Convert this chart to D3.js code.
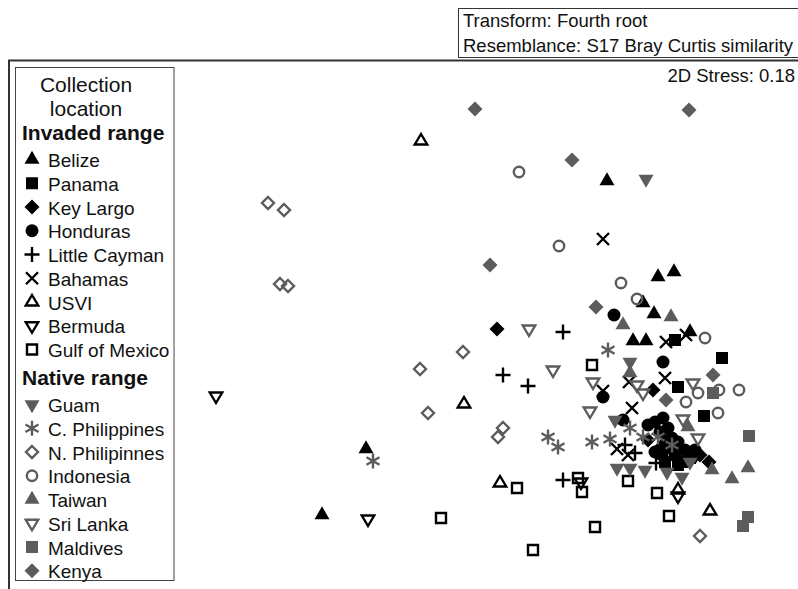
<!DOCTYPE html>
<html><head><meta charset="utf-8">
<script src="https://cdn.jsdelivr.net/npm/d3@7"></script>
<style>body{margin:0;background:#fff}svg{display:block;font-family:"Liberation Sans",Arial,Helvetica,sans-serif}</style>
</head><body><svg id="c" width="798" height="589"></svg>
<script>
// ---- data (nMDS coordinates) ----
const invadedLabels = ["Belize","Panama","Key Largo","Honduras","Little Cayman","Bahamas","USVI","Bermuda","Gulf of Mexico"];
const nativeLabels = ["Guam","C. Philippines","N. Philipinnes","Indonesia","Taiwan","Sri Lanka","Maldives","Kenya"];
const legendTitle = ["Collection","location"];
const headerLines = ["Transform: Fourth root","Resemblance: S17 Bray Curtis similarity"];
const stressLabel = "2D Stress: 0.18";

const belize = [[2.07,1.49],[2.58,0.53],[2.74,0.58],[2.43,0.27],[2.54,0.16],[2.33,-0.11],[2.46,-0.11],[2.90,-0.02],[-0.34,-1.19],[-0.78,-1.85],[2.65,-1.10]];
const panama = [[2.75,-0.10],[3.22,-0.28],[2.78,-0.57],[3.04,-0.86],[2.75,-1.25],[2.90,-1.28],[2.78,-1.35],[2.65,-1.32],[2.70,-1.18],[2.85,-1.32]];
const keyLargo = [[0.97,0.01],[3.09,-1.32],[2.53,-0.60],[2.60,-1.18],[3.00,-1.25],[2.48,-1.10],[2.78,-1.22]];
const honduras = [[2.14,0.15],[2.63,-0.32],[2.03,-0.67],[2.23,-0.90],[2.63,-0.88],[2.48,-0.95],[2.60,-1.02],[2.72,-1.08],[2.85,-1.20],[2.55,-1.22],[2.92,-1.28],[2.68,-0.98],[2.78,-1.12],[2.95,-1.20],[2.62,-1.25],[2.55,-0.92]];
const littleCayman = [[1.63,-0.02],[1.03,-0.45],[1.28,-0.56],[1.63,-1.50],[2.25,-1.15],[2.35,-1.23],[2.56,-1.33]];
const bahamas = [[2.03,0.91],[2.66,-0.12],[2.86,-0.05],[2.03,-0.61],[2.29,-0.52],[2.65,-0.48],[2.32,-0.78],[2.17,-1.19],[2.28,-1.25]];
const usvi = [[0.21,1.89],[0.64,-0.74],[1.00,-1.53],[3.10,-1.81],[2.78,-1.60]];
const bermuda = [[-1.84,-0.66],[-0.32,-1.89],[1.81,-1.52],[2.78,-1.66]];
const gulfOfMexico = [[0.41,-1.88],[1.17,-1.58],[1.33,-2.20],[1.95,-1.97],[1.92,-0.35],[1.78,-1.48],[1.82,-1.62],[2.28,-1.51],[2.69,-1.86],[2.57,-1.63]];

const guam = [[2.46,1.51],[2.17,-1.38],[2.30,-1.38],[2.45,-1.40],[2.67,-1.42],[2.82,-1.47],[2.30,-0.32],[2.15,-0.90],[2.90,-1.32]];
const cPhilippines = [[-0.27,-1.31],[1.48,-1.07],[1.58,-1.17],[1.92,-1.12],[2.10,-1.09],[2.30,-0.98],[2.43,-1.07],[2.58,-1.07],[2.72,-1.15],[2.08,-0.20]];
const nPhilippines = [[-1.32,1.27],[-1.16,1.20],[-1.20,0.46],[-1.12,0.44],[0.63,-0.22],[0.20,-0.39],[0.28,-0.83],[0.98,-1.07],[1.03,-0.98],[3.00,-2.06]];
const indonesia = [[1.19,1.58],[1.59,0.84],[2.21,0.47],[2.37,0.31],[3.05,-0.08],[2.98,-0.63],[3.19,-0.60],[3.39,-0.60],[3.18,-0.83],[2.86,-0.72]];
const taiwan = [[2.23,0.05],[2.71,0.13],[3.12,-1.40],[3.32,-1.49],[3.48,-1.38],[2.88,-0.97],[2.30,-0.43]];
const sriLanka = [[1.29,0.01],[1.53,-0.40],[1.93,-0.52],[2.37,-0.55],[2.43,-0.63],[1.90,-0.81],[2.93,-0.53],[2.83,-0.89],[2.98,-1.08]];
const maldives = [[3.13,-0.63],[3.49,-1.06],[3.48,-1.87],[3.43,-1.96]];
const kenya = [[0.75,2.21],[2.89,2.20],[1.72,1.70],[0.90,0.65],[1.96,0.23],[3.13,-0.45],[2.66,-0.70]];

// ---- styling ----
const BLACK = "#000", GRAY = "#5c5c5c";
const invadedSeries = [
  {data: belize, shape: "triUp", filled: true},
  {data: panama, shape: "square", filled: true},
  {data: keyLargo, shape: "diamond", filled: true},
  {data: honduras, shape: "circle", filled: true},
  {data: littleCayman, shape: "plus"},
  {data: bahamas, shape: "cross"},
  {data: usvi, shape: "triUpO"},
  {data: bermuda, shape: "triDownO"},
  {data: gulfOfMexico, shape: "squareO"}
].map((s,i)=>({...s, label: invadedLabels[i], color: BLACK}));
const nativeSeries = [
  {data: guam, shape: "triDown", filled: true},
  {data: cPhilippines, shape: "asterisk"},
  {data: nPhilippines, shape: "diamondO"},
  {data: indonesia, shape: "circleO"},
  {data: taiwan, shape: "triUp", filled: true},
  {data: sriLanka, shape: "triDownO"},
  {data: maldives, shape: "square", filled: true},
  {data: kenya, shape: "diamond", filled: true}
].map((s,i)=>({...s, label: nativeLabels[i], color: GRAY}));

function shapePath(shape){
  const w=15, h=13;
  switch(shape){
    case "triUp": return `M0,${-2*h/3}L${w/2},${h/3}L${-w/2},${h/3}Z`;
    case "triDown": return `M0,${2*h/3}L${w/2},${-h/3}L${-w/2},${-h/3}Z`;
    case "triUpO": { const a=12.5,b=10.5; return `M0,${-2*b/3}L${a/2},${b/3}L${-a/2},${b/3}Z`; }
    case "triDownO": { const a=12.5,b=10.5; return `M0,${2*b/3}L${a/2},${-b/3}L${-a/2},${-b/3}Z`; }
    case "square": return "M-6,-6H6V6H-6Z";
    case "squareO": return "M-5,-5H5V5H-5Z";
    case "diamond": return "M0,-7.5L7.5,0L0,7.5L-7.5,0Z";
    case "diamondO": return "M0,-6L6,0L0,6L-6,0Z";
    case "circle": return d3.arc()({innerRadius:0,outerRadius:6.5,startAngle:0,endAngle:2*Math.PI});
    case "circleO": return d3.arc()({innerRadius:0,outerRadius:5.2,startAngle:0,endAngle:2*Math.PI});
    case "plus": return "M-7.5,0H7.5M0,-7.5V7.5";
    case "cross": return "M-6,-6L6,6M6,-6L-6,6";
    case "asterisk": {
      let p=""; for(const ang of [90,30,150]){const r=ang*Math.PI/180, dx=7.5*Math.cos(r), dy=7.5*Math.sin(r); p+=`M${-dx},${-dy}L${dx},${dy}`;}
      return p;
    }
  }
}
function styleMark(sel, s){
  if(s.filled){ sel.attr("fill", s.color).attr("stroke","none"); }
  else { sel.attr("fill","none").attr("stroke", s.color).attr("stroke-width", 2.4); }
}

const svg = d3.select("#c");
const x = d3.scaleLinear().domain([-4, 3.98]).range([0, 798]);
const y = d3.scaleLinear().domain([3.3, -2.59]).range([0, 589]);

// header box
svg.append("rect").attr("x",458.5).attr("y",8.5).attr("width",345).attr("height",49).attr("fill","none").attr("stroke","#333").attr("stroke-width",1);
svg.selectAll("text.hdr").data(headerLines).join("text").attr("class","hdr")
  .attr("x",463).attr("y",(d,i)=>27+i*24.5).attr("font-size",18.5).attr("fill","#111").text(d=>d);

// plot frame
svg.append("path").attr("d","M9,589V60.5H798").attr("fill","none").attr("stroke","#333").attr("stroke-width",2);
svg.append("text").attr("x",795).attr("y",82).attr("text-anchor","end").attr("font-size",18.5).attr("fill","#111").text(stressLabel);

// points
const g = svg.append("g");
[...invadedSeries, ...nativeSeries].forEach(s=>{
  const sel = g.append("g").selectAll("path").data(s.data).join("path")
    .attr("transform", d=>`translate(${x(d[0])},${y(d[1])})`)
    .attr("d", shapePath(s.shape));
  styleMark(sel, s);
});

// legend
const lg = svg.append("g");
lg.append("rect").attr("x",15.5).attr("y",67.5).attr("width",158.5).attr("height",513).attr("fill","#fff").attr("stroke","#444").attr("stroke-width",1);
lg.selectAll("text.title").data(legendTitle).join("text").attr("class","title")
  .attr("x",86).attr("y",(d,i)=>92+i*23.5).attr("text-anchor","middle").attr("font-size",21).attr("fill","#111").text(d=>d);
const step = 23.75;
function legendBlock(head, series, headY){
  lg.append("text").attr("x",22).attr("y",headY).attr("font-size",21).attr("font-weight","bold").attr("fill","#111").text(head);
  series.forEach((s,i)=>{
    const by = headY + 27 + i*step;
    const m = lg.append("path").attr("transform",`translate(32,${by-7.5})`).attr("d", shapePath(s.shape));
    styleMark(m, s);
    lg.append("text").attr("x",48).attr("y",by).attr("font-size",19).attr("fill","#111").text(s.label);
  });
}
legendBlock("Invaded range", invadedSeries, 140);
legendBlock("Native range", nativeSeries, 385);
</script></body></html>
